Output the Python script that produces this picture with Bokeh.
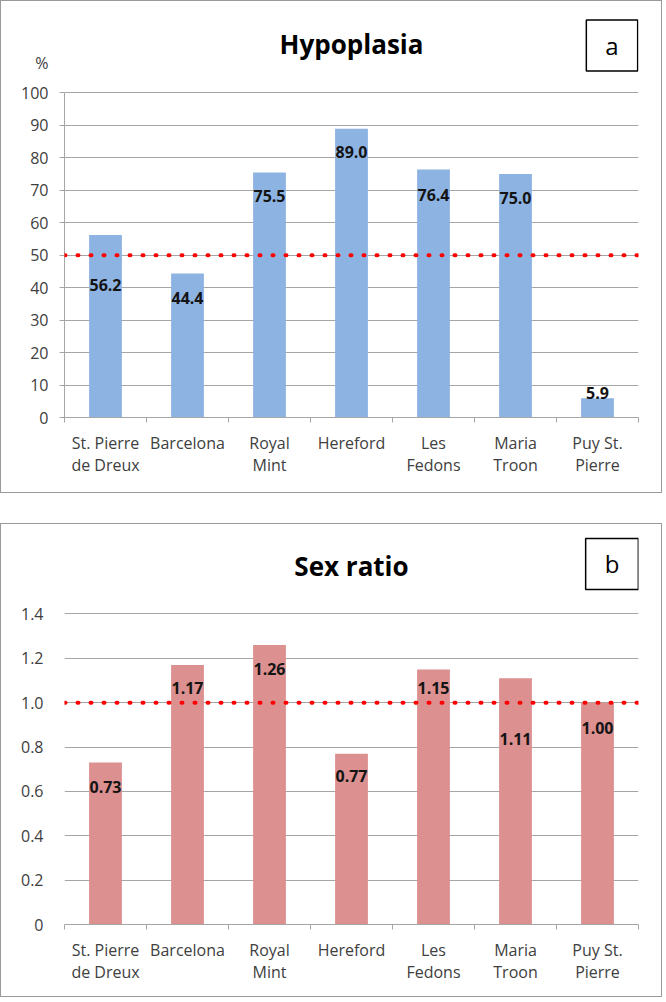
from bokeh.plotting import figure
from bokeh.models import (ColumnDataSource, FactorRange, FixedTicker, LinearAxis,
                          CategoricalAxis, Span, Label, NumeralTickFormatter)
from bokeh.layouts import column
from bokeh.core.properties import value
from bokeh.embed import file_html
from bokeh.resources import INLINE

# ---------------- data ----------------
sites = ["St. Pierre\nde Dreux", "Barcelona", "Royal\nMint", "Hereford",
         "Les\nFedons", "Maria\nTroon", "Puy St.\nPierre"]
hypoplasia_pct = [56.2, 44.4, 75.5, 89.0, 76.4, 75.0, 5.9]
sex_ratio = [0.73, 1.17, 1.26, 0.77, 1.15, 1.11, 1.00]
hypo_ref = 50
sex_ref = 1.0
hypo_ticks = [0, 10, 20, 30, 40, 50, 60, 70, 80, 90, 100]
sex_ticks = [0, 0.2, 0.4, 0.6, 0.8, 1.0, 1.2, 1.4]

# label vertical shifts (style, screen px, positive = down)
hypo_label_dy = [50, 25, 24, 23, 25, 24, -5]
sex_label_dy = [24, 23, 24, 22, 19, 61, 25]

FONT = "Open Sans"
GRID = "#a6a6a6"
TXT = "#404040"
W = 662


def make_panel(vals, dy, labels, ticks, ymax, ref, color, title, tag,
               h, axis_top, axis_bottom, left, right, pct, title_up, tag_up):
    frame_top = 1
    scale = (axis_bottom - axis_top) / ymax          # px per unit
    y_end = (axis_bottom - frame_top) / scale
    src = ColumnDataSource(dict(cat=sites, val=vals, lbl=labels, dy=dy))
    p = figure(x_range=FactorRange(*sites), y_range=(0, y_end),
               width=W, height=h, output_backend="svg", toolbar_location=None,
               x_axis_location=None, min_border_top=0,
               min_border_bottom=h - 1 - axis_bottom, min_border_left=left - 1,
               min_border_right=W - 1 - right, outline_line_color=None,
               background_fill_color="white", border_fill_color="white",
               styles={"border": "1px solid #9a9a9a"})
    p.title.visible = False
    p.vbar(x="cat", top="val", width=0.4, source=src, fill_color=color,
           line_color=None)
    p.text(x="cat", y="val", text="lbl", y_offset="dy", source=src,
           text_align="center", text_baseline="middle",
           text_font=value(FONT), text_font_style="bold",
           text_font_size="16px", text_color="#141414")
    p.add_layout(Span(location=ref, dimension="width", line_color="#ff0000",
                      line_width=4, line_dash="1 12", line_cap="round"))

    # x axis: boundary ticks (as minor ticks, no labels) + category labels
    tick_axis = LinearAxis(
        ticker=FixedTicker(ticks=[], minor_ticks=list(range(len(sites) + 1))),
        major_tick_line_color=None, major_label_standoff=0,
        minor_tick_in=0, minor_tick_out=5, minor_tick_line_color=GRID,
        axis_line_color=GRID)
    p.add_layout(tick_axis, "below")
    cat_axis = CategoricalAxis(axis_line_color=None, major_tick_line_color=None,
                               minor_tick_line_color=None,
                               major_label_standoff=3,
                               major_label_text_font=FONT,
                               major_label_text_font_size="16px",
                               major_label_text_line_height=1.0,
                               major_label_text_color=TXT)
    p.add_layout(cat_axis, "below")

    ya = p.yaxis[0]
    ya.minor_tick_line_color = None
    if pct:
        # axis line + outward tick stubs, no labels
        ya.ticker = FixedTicker(ticks=[], minor_ticks=ticks)
        ya.bounds = (0, ymax)
        ya.axis_line_color = GRID
        ya.major_tick_line_color = None
        ya.minor_tick_line_color = GRID
        ya.minor_tick_in = 0
        ya.minor_tick_out = 5
        ya.major_label_standoff = 0
        # labels (numbers and the "%" unit above them)
        pct_pos = ymax + 30 / scale
        lab_axis = LinearAxis(ticker=FixedTicker(ticks=ticks + [pct_pos]),
                              major_label_overrides={pct_pos: "%"},
                              axis_line_color=None, major_tick_line_color=None,
                              minor_tick_line_color=None, major_tick_in=0,
                              major_tick_out=0, major_label_standoff=11,
                              major_label_text_font=FONT,
                              major_label_text_font_size="16px",
                              major_label_text_color=TXT)
        p.add_layout(lab_axis, "left")
    else:
        ya.ticker = FixedTicker(ticks=ticks)
        ya.bounds = (0, ymax)
        ya.axis_line_color = None
        ya.major_tick_line_color = None
        ya.major_label_standoff = 15
        ya.major_label_text_font = FONT
        ya.major_label_text_font_size = "16px"
        ya.major_label_text_color = TXT
        ya.formatter = NumeralTickFormatter(format="0.0")
        ya.major_label_overrides = {0: "0"}

    p.xgrid.visible = False
    p.ygrid.ticker = FixedTicker(ticks=ticks)
    p.ygrid.grid_line_color = GRID

    nx = len(sites)
    p.add_layout(Label(x=nx / 2, y=ymax, y_offset=title_up,
                       text=title, text_align="center", text_baseline="middle",
                       text_font=FONT, text_font_style="bold",
                       text_font_size="26px", text_color="black"))
    p.add_layout(Label(x=nx, y=ymax, x_offset=-26.5, y_offset=tag_up,
                       text=tag, text_align="center", text_baseline="middle",
                       text_font=FONT, text_font_size="24px",
                       text_color="black", border_line_color="black",
                       border_line_width=1.5, background_fill_color="white",
                       padding=dict(left=19, right=19, top=9, bottom=9)))
    return p


p1 = make_panel(hypoplasia_pct, hypo_label_dy,
                [f"{v:.1f}" for v in hypoplasia_pct], hypo_ticks, 100,
                hypo_ref, "#8db3e2", "Hypoplasia", "a", 493, 92, 415, 64, 637,
                True, 49, 47.5)
p2 = make_panel(sex_ratio, sex_label_dy, [f"{v:.2f}" for v in sex_ratio],
                sex_ticks, 1.4, sex_ref, "#dc9090", "Sex ratio", "b", 474,
                613 - 523, 922 - 523, 62, 636, False, 48, 50)

layout = column(p1, p2, spacing=30)
open("out.html", "w").write(file_html(layout, INLINE))
